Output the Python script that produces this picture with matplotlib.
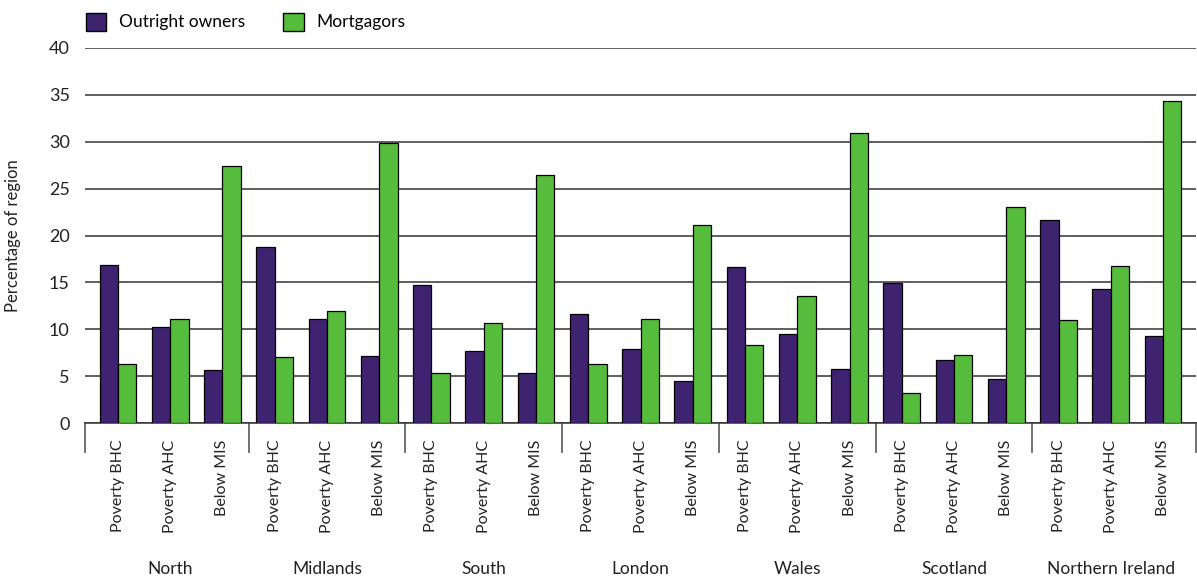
import numpy as np
import matplotlib.pyplot as plt
import matplotlib.transforms as mtransforms
from matplotlib.patches import Patch

plt.rcParams['font.family'] = ['Lato', 'DejaVu Sans']

regions = ["North", "Midlands", "South", "London", "Wales", "Scotland", "Northern Ireland"]
measures = ["Poverty BHC", "Poverty AHC", "Below MIS"]

outright = [16.9, 10.2, 5.7,
            18.8, 11.1, 7.1,
            14.7, 7.7, 5.3,
            11.6, 7.9, 4.5,
            16.6, 9.5, 5.8,
            14.9, 6.7, 4.7,
            21.7, 14.3, 9.3]
mortgagors = [6.3, 11.1, 27.4,
              7.0, 12.0, 29.9,
              5.3, 10.7, 26.5,
              6.3, 11.1, 21.1,
              8.3, 13.6, 30.9,
              3.2, 7.3, 23.0,
              11.0, 16.8, 34.4]

purple = "#3F2270"
green = "#56BC3B"

fig = plt.figure(figsize=(11.97, 5.83), dpi=100)
ax = fig.add_axes([85 / 1197, 1 - 423 / 583, 1111 / 1197, 375 / 583])

x = np.arange(len(outright))
w = 0.352
ax.bar(x - w / 2, outright, w, color=purple, edgecolor="black", linewidth=0.9, zorder=3)
ax.bar(x + w / 2, mortgagors, w, color=green, edgecolor="black", linewidth=0.9, zorder=3)

ax.set_xlim(-0.63, len(x) - 1 + 0.63)
ax.set_ylim(0, 40)
ax.set_yticks(range(0, 45, 5))
ax.tick_params(axis="y", length=0, labelsize=13, pad=11, colors="#222222")
ax.yaxis.grid(True, color="#333333", linewidth=1.1, zorder=0)
ax.set_axisbelow(True)
for s in ["left", "right", "top"]:
    ax.spines[s].set_visible(False)
ax.spines["bottom"].set_color("#333333")
ax.spines["bottom"].set_linewidth(1.1)

ax.set_xticks(x)
ax.set_xticklabels(measures * len(regions), rotation=90, fontsize=11.5, color="#222222")
ax.tick_params(axis="x", length=0, pad=12)

ax.set_ylabel("Percentage of region", fontsize=12, color="#222222")
ax.yaxis.set_label_coords(-0.0576, 0.5)

trans = mtransforms.blended_transform_factory(ax.transData, ax.transAxes)
seps = [-0.63] + [3 * i - 0.5 for i in range(1, len(regions))] + [len(x) - 1 + 0.63]
for s in seps:
    ax.plot([s, s], [0, -0.078], transform=trans, color="#666666", linewidth=1.3, clip_on=False)
for i, r in enumerate(regions):
    ax.text(3 * i + 1, -0.39, r, transform=trans, ha="center", va="center", fontsize=12.5, color="#222222")

handles = [Patch(facecolor=purple, edgecolor="black", label="Outright owners"),
           Patch(facecolor=green, edgecolor="black", label="Mortgagors")]
fig.legend(handles=handles, loc="upper left", bbox_to_anchor=(70 / 1197, 1.005), ncol=2, frameon=False,
           fontsize=12.5, handlelength=1.2, handleheight=1.2, columnspacing=2.2, handletextpad=0.7)

fig.savefig("out.png", dpi=100)
